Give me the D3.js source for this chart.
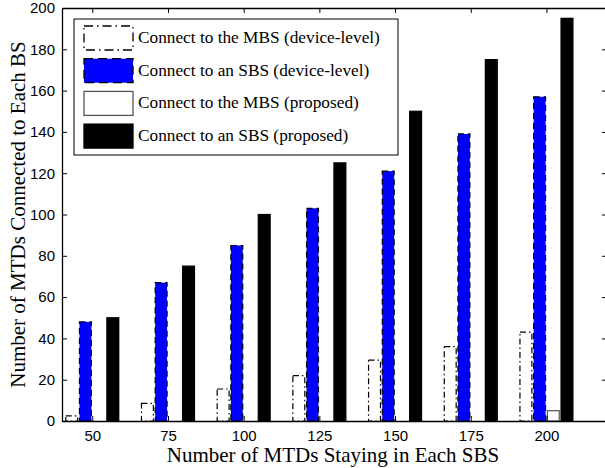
<!DOCTYPE html>
<html>
<head>
<meta charset="utf-8">
<script src="https://cdn.jsdelivr.net/npm/d3@7"></script>
<style>
  body { margin: 0; background: #fff; }
  svg { display: block; }
  .serif { font-family: "Liberation Serif", "DejaVu Serif", serif; }
  .sans { font-family: "Liberation Sans", "DejaVu Sans", sans-serif; }
</style>
</head>
<body>
<div id="chart"></div>
<script>
// values
const categories = [50, 75, 100, 125, 150, 175, 200];
const mbsDevice = [2.5, 8.5, 15.5, 22, 29.5, 36, 43];
const sbsDevice = [48, 67, 85, 103, 121, 139, 157];
const mbsProposed = [0, 0, 0, 0, 0, 0, 5];
const sbsProposed = [50, 75, 100, 125, 150, 175, 195];
const yTicks = [0, 20, 40, 60, 80, 100, 120, 140, 160, 180, 200];

const seriesNames = [
  "Connect to the MBS (device-level)",
  "Connect to an SBS (device-level)",
  "Connect to the MBS (proposed)",
  "Connect to an SBS (proposed)"
];
const seriesValues = [mbsDevice, sbsDevice, mbsProposed, sbsProposed];
const seriesStyle = [
  { fill: "#fff", stroke: "#000", dash: "6,3,1.5,3" },
  { fill: "#0000ff", stroke: "#000", dash: "6,4" },
  { fill: "#fff", stroke: "#555", dash: null },
  { fill: "#000", stroke: "#000", dash: null }
];

const width = 605, height = 468;
const margin = { top: 8, left: 62 };
const plotW = 545, plotH = 413;

const svg = d3.select("#chart").append("svg")
  .attr("width", width)
  .attr("height", height);

const g = svg.append("g")
  .attr("transform", "translate(" + margin.left + "," + margin.top + ")");

const x = d3.scaleLinear().domain([40, 220]).range([0, plotW]);
const y = d3.scaleLinear().domain([0, 200]).range([plotH, 0]);

// position of each series inside a group, in data units
const inner = d3.scaleBand()
  .domain(d3.range(seriesNames.length))
  .range([-8.75, 8.75])
  .paddingInner(0.13);

seriesValues.forEach((vals, si) => {
  const st = seriesStyle[si];
  g.append("g")
    .selectAll("rect")
    .data(vals)
    .join("rect")
    .attr("x", (d, i) => x(categories[i] + inner(si)))
    .attr("width", (d, i) => x(categories[i] + inner(si) + inner.bandwidth()) - x(categories[i] + inner(si)))
    .attr("y", d => y(d))
    .attr("height", d => y(0) - y(d))
    .attr("fill", st.fill)
    .attr("stroke", st.stroke)
    .attr("stroke-width", 1.2)
    .attr("stroke-dasharray", st.dash);
});

// axes, matlab style box with inward ticks
const xAxis = g.append("g")
  .attr("transform", "translate(0," + plotH + ")")
  .call(d3.axisBottom(x).tickValues(categories).tickSizeInner(-5).tickSizeOuter(0).tickPadding(9));
const xTop = g.append("g")
  .call(d3.axisTop(x).tickValues(categories).tickSizeInner(-5).tickSizeOuter(0).tickFormat(""));
const yAxis = g.append("g")
  .call(d3.axisLeft(y).tickValues(yTicks).tickSizeInner(-5).tickSizeOuter(0).tickPadding(7));
const yRight = g.append("g")
  .attr("transform", "translate(" + plotW + ",0)")
  .call(d3.axisRight(y).tickValues(yTicks).tickSizeInner(-5).tickSizeOuter(0).tickFormat(""));

[xAxis, xTop, yAxis, yRight].forEach(a => {
  a.attr("font-family", null).attr("font-size", null);
  a.selectAll("path").attr("stroke", "#000").attr("stroke-width", 1.3);
  a.selectAll("line").attr("stroke", "#000").attr("stroke-width", 1);
  a.selectAll("text")
    .attr("class", "sans")
    .attr("fill", "#000")
    .attr("font-size", 15);
});

// axis titles
svg.append("text")
  .attr("class", "serif")
  .attr("x", 333)
  .attr("y", 462)
  .attr("text-anchor", "middle")
  .attr("font-size", 21)
  .text("Number of MTDs Staying in Each SBS");

svg.append("text")
  .attr("class", "serif")
  .attr("transform", "translate(25," + (margin.top + y(100)) + ") rotate(-90)")
  .attr("text-anchor", "middle")
  .attr("font-size", 21)
  .text("Number of MTDs Connected to Each BS");

// legend
const legend = svg.append("g").attr("transform", "translate(74,19)");

legend.append("rect")
  .attr("width", 324)
  .attr("height", 136)
  .attr("fill", "#fff")
  .attr("stroke", "#000")
  .attr("stroke-width", 1);

seriesNames.forEach((name, i) => {
  const st = seriesStyle[i];
  const row = legend.append("g").attr("transform", "translate(0," + (19 + i * 32.7) + ")");
  row.append("rect")
    .attr("x", 10)
    .attr("y", -12)
    .attr("width", 49)
    .attr("height", 24)
    .attr("fill", st.fill)
    .attr("stroke", st.stroke)
    .attr("stroke-width", 1.3)
    .attr("stroke-dasharray", st.dash === null ? null : (i === 0 ? "9,4,1.5,4" : "9,5"));
  row.append("text")
    .attr("class", "serif")
    .attr("x", 64)
    .attr("y", 5)
    .attr("font-size", 17.3)
    .text(name);
});
</script>
</body>
</html>
